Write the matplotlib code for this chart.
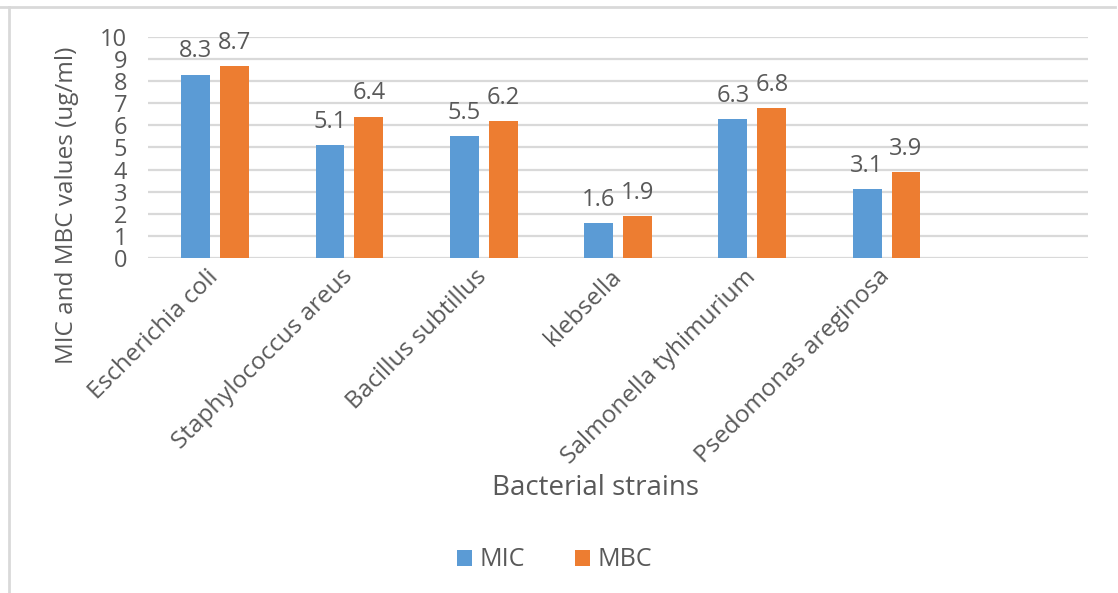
import matplotlib
matplotlib.use('Agg')
from matplotlib import pyplot as plt
from matplotlib.lines import Line2D
import numpy as np

strains = ['Escherichia coli', 'Staphylococcus areus', 'Bacillus subtillus',
           'klebsella', 'Salmonella tyhimurium', 'Psedomonas areginosa', '']
mic = [8.3, 5.1, 5.5, 1.6, 6.3, 3.1]
mbc = [8.7, 6.4, 6.2, 1.9, 6.8, 3.9]
yticks = list(range(0, 11))

blue = '#5B9BD5'
orange = '#ED7D31'
text_grey = '#595959'
grid_grey = '#D9D9D9'

plt.rcParams['font.family'] = ['Open Sans', 'DejaVu Sans']

W, H = 1118, 593
fig = plt.figure(figsize=(W / 100, H / 100), dpi=100)
ax = fig.add_axes([148 / W, 1 - 258 / H, 940 / W, 221 / H])

x = np.arange(len(mic))
width = 0.215
offset = 0.145
b1 = ax.bar(x - offset, mic, width, color=blue, label='MIC', zorder=3)
b2 = ax.bar(x + offset, mbc, width, color=orange, label='MBC', zorder=3)

for bars, vals in ((b1, mic), (b2, mbc)):
    for bar, v in zip(bars, vals):
        ax.annotate(f'{v:.1f}', (bar.get_x() + bar.get_width() / 2, v),
                    xytext=(0, 8), textcoords='offset points',
                    ha='center', va='bottom', fontsize=17, color=text_grey)

ax.set_xlim(-0.5, len(strains) - 0.5)
ax.set_ylim(0, 10)
ax.set_yticks(yticks)
ax.set_yticklabels([str(t) for t in yticks], fontsize=17, color=text_grey)
ax.yaxis.grid(True, color=grid_grey, linewidth=1.6, zorder=0)
ax.set_axisbelow(True)
for s in ax.spines.values():
    s.set_visible(False)
ax.tick_params(axis='y', length=0, pad=15)
ax.tick_params(axis='x', length=0, pad=11)

ax.set_xticks(np.arange(len(strains)))
ax.set_xticklabels(strains, rotation=45, ha='right', va='center',
                   rotation_mode='anchor', fontsize=17.5, color=text_grey)

fig.text(67 / W, 1 - 205 / H, 'MIC and MBC values (ug/ml)', fontsize=17.5,
         color=text_grey, rotation=90, ha='center', va='center')
fig.text(595 / W, 1 - 488 / H, 'Bacterial strains', fontsize=20,
         color=text_grey, ha='center', va='center')

fig.legend(handles=[b1, b2], labels=['MIC', 'MBC'], loc='center',
           bbox_to_anchor=(555 / W, 1 - 560 / H), ncol=2, frameon=False,
           fontsize=18, labelcolor=text_grey, handlelength=0.6,
           handleheight=0.6, handletextpad=0.3, columnspacing=2.0)

# outer chart frame (top and left edges)
fig.add_artist(Line2D([0, 1115 / W], [1 - 7 / H, 1 - 7 / H],
                      transform=fig.transFigure, color=grid_grey, linewidth=2))
fig.add_artist(Line2D([9 / W, 9 / W], [0, 1 - 7 / H],
                      transform=fig.transFigure, color=grid_grey, linewidth=2))

fig.savefig('out.png', dpi=100, facecolor='white')
